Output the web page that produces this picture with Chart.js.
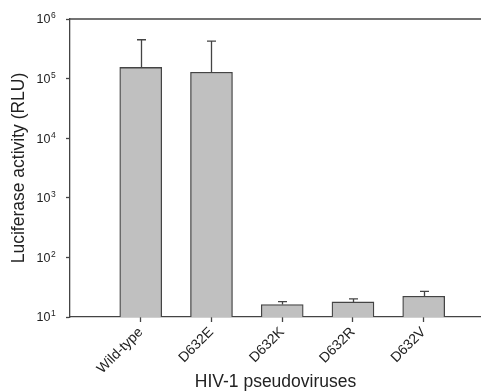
<!DOCTYPE html>
<html>
<head>
<meta charset="utf-8">
<script src="https://cdn.jsdelivr.net/npm/chart.js@4/dist/chart.umd.min.js"></script>
<style>
  body { margin: 0; background: #fff; }
  canvas { display: block; }
</style>
</head>
<body>
<canvas id="chart" width="481" height="391"></canvas>
<script>
// data
const categories = ['Wild-type', 'D632E', 'D632K', 'D632R', 'D632V'];
const positions = [1, 2, 3, 4, 5];
const means = [154000, 128000, 16.2, 17.9, 22.3];
const errUpper = [295000, 298000, 1.9, 2.2, 4.7];
const yTicks = [10, 100, 1000, 10000, 100000, 1000000];

const FONT = 'Arial, "Liberation Sans", sans-serif';
const INK = '#222';
const AXIS = '#444';

// error bars (upper only) + top frame line + superscript tick labels
const extras = {
    id: 'extras',
    afterDatasetsDraw(chart) {
        const ctx = chart.ctx;
        const xs = chart.scales.x;
        const ys = chart.scales.y;
        const area = chart.chartArea;
        ctx.save();
        ctx.strokeStyle = AXIS;
        ctx.lineWidth = 1.3;
        means.forEach(function(m, i) {
            const x = Math.round(xs.getPixelForValue(positions[i])) + 0.5;
            const y0 = ys.getPixelForValue(m);
            const y1 = ys.getPixelForValue(m + errUpper[i]);
            ctx.beginPath();
            ctx.moveTo(x, y0);
            ctx.lineTo(x, y1);
            ctx.moveTo(x - 4.5, y1);
            ctx.lineTo(x + 4.5, y1);
            ctx.stroke();
        });
        // top frame line
        ctx.beginPath();
        ctx.moveTo(area.left, area.top);
        ctx.lineTo(area.right, area.top);
        ctx.stroke();
        // y tick labels as 10 with exponent
        ctx.fillStyle = INK;
        ctx.textBaseline = 'middle';
        yTicks.forEach(function(v) {
            const y = ys.getPixelForValue(v);
            ctx.font = '12.5px ' + FONT;
            ctx.textAlign = 'right';
            ctx.fillText('10', 50.5, y + 1);
            ctx.font = '8.5px ' + FONT;
            ctx.textAlign = 'left';
            ctx.fillText(String(Math.round(Math.log10(v))), 51, y - 3);
        });
        ctx.restore();
    }
};

new Chart(document.getElementById('chart'), {
    type: 'bar',
    data: {
        datasets: [{
            data: positions.map((p, i) => ({ x: p, y: means[i] })),
            backgroundColor: '#c0c0c0',
            borderColor: AXIS,
            borderWidth: { top: 1.3, left: 1.3, right: 1.3, bottom: 0 },
            borderSkipped: false,
            barThickness: 42
        }]
    },
    options: {
        responsive: false,
        animation: false,
        layout: { padding: { top: 19, right: 0, left: 0, bottom: 0 } },
        plugins: { legend: { display: false }, tooltip: { enabled: false } },
        scales: {
            x: {
                type: 'linear',
                min: 0,
                max: 5.81,
                offset: false,
                afterBuildTicks: function(scale) {
                    scale.ticks = positions.map(v => ({ value: v }));
                },
                afterFit: function(scale) { scale.height = 74; },
                ticks: {
                    autoSkip: false,
                    maxRotation: 45,
                    minRotation: 45,
                    padding: 2,
                    color: INK,
                    font: { family: FONT, size: 14 },
                    callback: function(v) { return categories[positions.indexOf(v)]; }
                },
                grid: { offset: false, drawOnChartArea: false, tickLength: 5, color: AXIS, tickWidth: 1.3 },
                border: { color: AXIS, width: 1.3 },
                title: {
                    display: true,
                    text: 'HIV-1 pseudoviruses',
                    color: INK,
                    font: { family: FONT, size: 17.5, lineHeight: 1.0 },
                    padding: { top: 0, bottom: 0 }
                }
            },
            y: {
                type: 'logarithmic',
                min: 10,
                max: 1000000,
                afterBuildTicks: function(scale) {
                    scale.ticks = yTicks.map(v => ({ value: v }));
                },
                afterFit: function(scale) { scale.width = 70; },
                ticks: { display: false },
                grid: { drawOnChartArea: false, tickLength: 4, color: AXIS, tickWidth: 1.3 },
                border: { color: AXIS, width: 1.3 },
                title: {
                    display: true,
                    text: 'Luciferase activity (RLU)',
                    color: INK,
                    font: { family: FONT, size: 17.5, lineHeight: 1.2 },
                    padding: { top: 9, bottom: 0 }
                }
            }
        }
    },
    plugins: [extras]
});
</script>
</body>
</html>
